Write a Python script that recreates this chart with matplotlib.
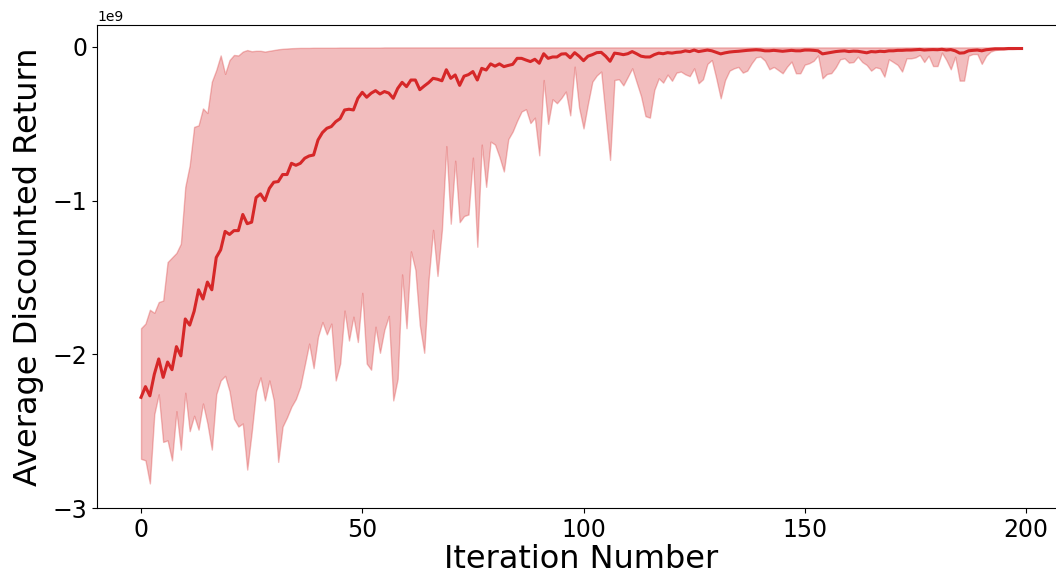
import numpy as np
import matplotlib
matplotlib.use("Agg")
import matplotlib.pyplot as plt

# returns in units of 1e9, one value per iteration (0..199)
mean_ret = [
    -2.28, -2.21, -2.27, -2.13, -2.03, -2.15, -2.05, -2.10, -1.95, -2.01,
    -1.77, -1.81, -1.72, -1.58, -1.64, -1.53, -1.58, -1.37, -1.32, -1.20,
    -1.22, -1.195, -1.195, -1.09, -1.15, -1.14, -0.98, -0.956, -1.00, -0.92,
    -0.88, -0.876, -0.83, -0.83, -0.757, -0.77, -0.757, -0.724, -0.709, -0.703,
    -0.605, -0.557, -0.529, -0.518, -0.486, -0.466, -0.41, -0.405, -0.41, -0.334,
    -0.295, -0.327, -0.301, -0.284, -0.306, -0.29, -0.30, -0.334, -0.27, -0.23,
    -0.258, -0.215, -0.215, -0.278, -0.254, -0.232, -0.204, -0.21, -0.22, -0.148,
    -0.204, -0.182, -0.25, -0.19, -0.18, -0.16, -0.215, -0.139, -0.15, -0.11,
    -0.125, -0.11, -0.128, -0.12, -0.113, -0.074, -0.074, -0.085, -0.095, -0.08,
    -0.106, -0.044, -0.074, -0.065, -0.065, -0.046, -0.044, -0.07, -0.037, -0.06,
    -0.089, -0.06, -0.05, -0.037, -0.035, -0.06, -0.093, -0.04, -0.044, -0.05,
    -0.044, -0.03, -0.044, -0.06, -0.065, -0.065, -0.05, -0.04, -0.044, -0.037,
    -0.04, -0.035, -0.033, -0.025, -0.03, -0.02, -0.03, -0.025, -0.02, -0.025,
    -0.035, -0.045, -0.038, -0.033, -0.03, -0.028, -0.025, -0.022, -0.02, -0.018,
    -0.02, -0.025, -0.025, -0.022, -0.025, -0.028, -0.025, -0.022, -0.025, -0.025,
    -0.02, -0.02, -0.022, -0.025, -0.045, -0.04, -0.035, -0.03, -0.027, -0.025,
    -0.03, -0.027, -0.028, -0.033, -0.038, -0.03, -0.032, -0.028, -0.03, -0.025,
    -0.025, -0.022, -0.022, -0.02, -0.02, -0.018, -0.016, -0.02, -0.018, -0.017,
    -0.018, -0.015, -0.02, -0.017, -0.025, -0.04, -0.038, -0.025, -0.022, -0.02,
    -0.025, -0.018, -0.015, -0.012, -0.012, -0.012, -0.01, -0.01, -0.01, -0.01,
]

upper_ret = [
    -1.83, -1.80, -1.71, -1.73, -1.66, -1.65, -1.40, -1.37, -1.34, -1.28,
    -0.91, -0.77, -0.52, -0.51, -0.40, -0.43, -0.226, -0.15, -0.055, -0.175,
    -0.085, -0.052, -0.055, -0.03, -0.02, -0.028, -0.025, -0.025, -0.03, -0.025,
    -0.02, -0.015, -0.012, -0.01, -0.008, -0.007, -0.006, -0.006, -0.006, -0.005,
    -0.005, -0.005, -0.005, -0.005, -0.005, -0.004, -0.004, -0.004, -0.004, -0.004,
    -0.004, -0.004, -0.004, -0.004, -0.004, -0.003, -0.003, -0.003, -0.003, -0.003,
    -0.003, -0.003, -0.003, -0.003, -0.003, -0.003, -0.003, -0.003, -0.003, -0.003,
    -0.003, -0.003, -0.003, -0.003, -0.003, -0.003, -0.003, -0.003, -0.003, -0.003,
    -0.003, -0.003, -0.003, -0.003, -0.003, -0.003, -0.003, -0.003, -0.003, -0.003,
    -0.003, -0.003, -0.003, -0.003, -0.003, -0.003, -0.003, -0.003, -0.003, -0.003,
    -0.003, -0.003, -0.003, -0.003, -0.003, -0.003, -0.003, -0.003, -0.003, -0.003,
    -0.003, -0.003, -0.003, -0.003, -0.003, -0.003, -0.003, -0.003, -0.003, -0.003,
    -0.003, -0.003, -0.003, -0.003, -0.003, -0.003, -0.003, -0.003, -0.003, -0.003,
    -0.003, -0.003, -0.003, -0.003, -0.003, -0.003, -0.003, -0.003, -0.003, -0.003,
    -0.003, -0.003, -0.003, -0.003, -0.003, -0.003, -0.003, -0.003, -0.003, -0.003,
    -0.003, -0.003, -0.003, -0.003, -0.003, -0.003, -0.003, -0.003, -0.003, -0.003,
    -0.003, -0.003, -0.003, -0.003, -0.003, -0.003, -0.003, -0.003, -0.003, -0.003,
    -0.003, -0.003, -0.003, -0.003, -0.003, -0.003, -0.003, -0.003, -0.003, -0.003,
    -0.003, -0.003, -0.003, -0.003, -0.003, -0.003, -0.003, -0.003, -0.003, -0.003,
    -0.003, -0.003, -0.003, -0.003, -0.003, -0.003, -0.002, -0.002, -0.002, -0.002,
]

lower_ret = [
    -2.68, -2.69, -2.84, -2.39, -2.26, -2.57, -2.56, -2.69, -2.37, -2.62,
    -2.25, -2.50, -2.40, -2.49, -2.32, -2.45, -2.62, -2.26, -2.17, -2.14,
    -2.24, -2.42, -2.47, -2.45, -2.75, -2.51, -2.24, -2.15, -2.30, -2.17,
    -2.30, -2.70, -2.47, -2.41, -2.34, -2.29, -2.21, -2.07, -1.93, -2.09,
    -1.885, -1.79, -1.87, -1.80, -2.17, -2.06, -1.715, -1.91, -1.755, -1.92,
    -1.60, -2.06, -2.10, -1.82, -1.99, -1.84, -1.75, -2.30, -2.16, -1.48,
    -1.83, -1.33, -1.45, -1.81, -1.99, -1.51, -1.19, -1.49, -1.19, -0.645,
    -1.15, -0.74, -1.14, -1.10, -1.09, -0.72, -1.30, -0.635, -0.91, -0.616,
    -0.635, -0.715, -0.81, -0.60, -0.55, -0.48, -0.42, -0.405, -0.495, -0.46,
    -0.705, -0.215, -0.50, -0.34, -0.366, -0.332, -0.29, -0.445, -0.128, -0.395,
    -0.53, -0.37, -0.226, -0.185, -0.16, -0.45, -0.735, -0.215, -0.21, -0.25,
    -0.195, -0.139, -0.23, -0.32, -0.45, -0.46, -0.28, -0.204, -0.232, -0.18,
    -0.22, -0.167, -0.16, -0.178, -0.19, -0.139, -0.236, -0.21, -0.11, -0.085,
    -0.204, -0.334, -0.215, -0.154, -0.139, -0.13, -0.167, -0.154, -0.106, -0.067,
    -0.063, -0.089, -0.145, -0.13, -0.15, -0.171, -0.128, -0.095, -0.171, -0.171,
    -0.115, -0.106, -0.09, -0.055, -0.204, -0.176, -0.17, -0.132, -0.08, -0.074,
    -0.102, -0.098, -0.063, -0.098, -0.117, -0.154, -0.132, -0.139, -0.193, -0.08,
    -0.098, -0.117, -0.16, -0.074, -0.074, -0.068, -0.052, -0.098, -0.057, -0.124,
    -0.124, -0.037, -0.085, -0.145, -0.063, -0.219, -0.219, -0.057, -0.046, -0.046,
    -0.11, -0.057, -0.03, -0.02, -0.017, -0.016, -0.014, -0.014, -0.012, -0.012,
]

iters = np.arange(len(mean_ret))
mean_ret = np.array(mean_ret) * 1e9
upper_ret = np.array(upper_ret) * 1e9
lower_ret = np.array(lower_ret) * 1e9

fig = plt.figure(figsize=(10.56, 5.78), dpi=100)
# right spine sits just past the canvas edge in the reference
ax = fig.add_axes([97 / 1056, 70 / 578, 968.6 / 1056, 483 / 578])

ax.fill_between(iters, lower_ret, upper_ret, color='tab:red', alpha=0.3)
ax.plot(iters, mean_ret, color='tab:red', linewidth=2.2)

ax.set_xlim(-9.95, 208.95)
ax.set_ylim(-3e9, 0.143e9)
ax.set_xticks([0, 50, 100, 150, 200])
ax.set_yticks([-3e9, -2e9, -1e9, 0])
ax.tick_params(labelsize=17)

ax.set_xlabel('Iteration Number', fontsize=23, labelpad=2)
ax.set_ylabel('Average Discounted Return', fontsize=23, labelpad=6)

fig.savefig('out.png', dpi=100)
